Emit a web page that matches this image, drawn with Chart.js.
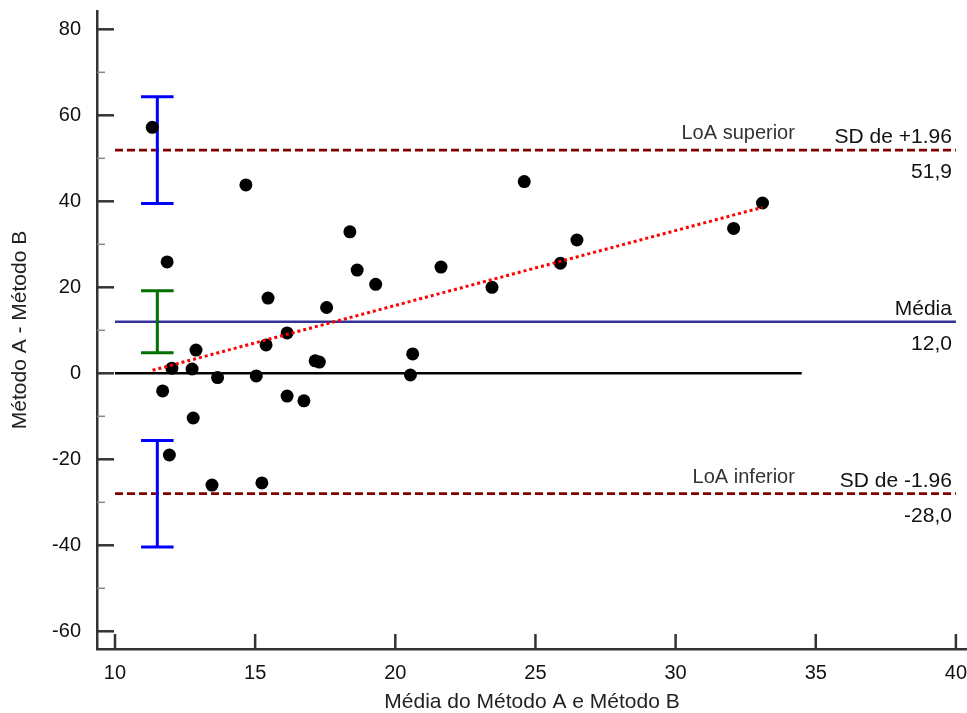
<!DOCTYPE html>
<html lang="pt">
<head>
<meta charset="utf-8">
<script src="https://cdn.jsdelivr.net/npm/chart.js@4.4.0/dist/chart.umd.min.js"></script>
<style>
  html, body { margin: 0; padding: 0; background: #fff; }
  #wrap { width: 967px; height: 713px; }
</style>
</head>
<body>
<div id="wrap"><canvas id="blandAltman"></canvas></div>
<script>
// Média dos dois métodos (eixo x) e diferença A - B (eixo y)
const mediaAB = [11.33, 11.86, 12.03, 11.70, 11.94, 12.75, 12.89, 12.79, 13.66, 13.46,
                 14.67, 15.04, 15.24, 15.39, 15.46, 16.14, 16.14, 16.74, 17.14, 17.29,
                 17.55, 18.38, 18.64, 19.30, 20.54, 20.62, 21.63, 23.45, 24.60, 25.89,
                 26.48, 32.07, 33.10];
const diferenca = [57.2, 25.9, 1.2, -4.1, -19.0, 1.0, 5.4, -10.4, -1.0, -26.0,
                   43.8, -0.6, -25.5, 6.6, 17.5, 9.4, -5.3, -6.4, 2.9, 2.6,
                   15.3, 32.9, 24.0, 20.7, -0.4, 4.5, 24.7, 20.0, 44.6, 25.6,
                   31.0, 33.7, 39.6];

const xTicks = [10, 15, 20, 25, 30, 35, 40];
const yTicks = [-60, -40, -20, 0, 20, 40, 60, 80];
const yTicksMenores = [-50, -30, -10, 10, 30, 50, 70];

// Média das diferenças e limites de concordância
const media = 12.0;
const loaSuperior = 51.9;
const loaInferior = -28.0;
// Intervalos de confiança (inferior, superior)
const icMedia = [4.8, 19.2];
const icLoaSuperior = [39.5, 64.3];
const icLoaInferior = [-40.4, -15.6];
const xIC = 11.51;

// Reta de regressão das diferenças
const regressaoX = [11.34, 33.1];
const regressaoY = [0.7, 38.6];

const xLinhas = [10, 40];
const xZero = [10, 34.5];

function linhaHorizontal(xs, valor) {
  return xs.map(v => ({ x: v, y: valor }));
}

function barraErro(ic) {
  const a = xIC - 0.58, b = xIC + 0.58;
  return [
    { x: a, y: ic[1] }, { x: b, y: ic[1] }, { x: b, y: null },
    { x: xIC, y: ic[1] }, { x: xIC, y: ic[0] }, { x: xIC, y: null },
    { x: a, y: ic[0] }, { x: b, y: ic[0] }
  ];
}

// Marcas dos eixos voltadas para dentro e textos das linhas de referência
const marcasETextos = {
  id: 'marcasETextos',
  afterDatasetsDraw(chart) {
    const { ctx, scales: { x, y } } = chart;
    ctx.save();
    ctx.lineCap = 'butt';

    ctx.strokeStyle = '#333';
    ctx.lineWidth = 2.5;
    yTicks.forEach(v => {
      const py = y.getPixelForValue(v);
      ctx.beginPath(); ctx.moveTo(x.left, py); ctx.lineTo(x.left + 17, py); ctx.stroke();
    });
    xTicks.forEach(v => {
      const px = x.getPixelForValue(v);
      ctx.beginPath(); ctx.moveTo(px, y.bottom); ctx.lineTo(px, y.bottom - 15); ctx.stroke();
    });
    ctx.strokeStyle = '#888';
    ctx.lineWidth = 1.5;
    yTicksMenores.forEach(v => {
      const py = y.getPixelForValue(v);
      ctx.beginPath(); ctx.moveTo(x.left, py); ctx.lineTo(x.left + 8, py); ctx.stroke();
    });

    const xd = x.getPixelForValue(40) - 4;
    ctx.textAlign = 'right';
    ctx.textBaseline = 'alphabetic';
    const fonte = '21px "Liberation Sans", Arial, sans-serif';
    const fontePequena = '20px "Liberation Sans", Arial, sans-serif';
    const fmt = v => v.toFixed(1).replace('.', ',');

    const rotulos = [
      { valor: loaSuperior, sd: 'SD de +1.96', nome: 'LoA superior' },
      { valor: media, sd: 'Média', nome: null },
      { valor: loaInferior, sd: 'SD de -1.96', nome: 'LoA inferior' }
    ];
    rotulos.forEach(r => {
      const py = y.getPixelForValue(r.valor);
      ctx.fillStyle = '#111';
      ctx.font = fonte;
      ctx.fillText(r.sd, xd, py - 7);
      ctx.fillText(fmt(r.valor), xd, py + 28);
      if (r.nome) {
        ctx.fillStyle = '#333';
        ctx.font = fontePequena;
        ctx.fillText(r.nome, xd - 157, py - 11);
      }
    });
    ctx.restore();
  }
};

Chart.defaults.font.family = '"Liberation Sans", Arial, sans-serif';
Chart.defaults.font.size = 20;
Chart.defaults.color = '#111';

const ctx = document.getElementById('blandAltman').getContext('2d');

new Chart(ctx, {
  type: 'scatter',
  data: {
    datasets: [
      {
        label: 'Regressão',
        data: regressaoX.map((v, i) => ({ x: v, y: regressaoY[i] })),
        showLine: true, pointRadius: 0,
        borderColor: '#ff0000', borderWidth: 3, borderDash: [3, 3]
      },
      {
        label: 'Diferenças',
        data: mediaAB.map((v, i) => ({ x: v, y: diferenca[i] })),
        pointRadius: 6.5, pointBackgroundColor: '#000', pointBorderWidth: 0
      },
      {
        label: 'IC LoA superior',
        data: barraErro(icLoaSuperior),
        showLine: true, spanGaps: false, pointRadius: 0,
        borderColor: '#0000ff', borderWidth: 3
      },
      {
        label: 'IC média',
        data: barraErro(icMedia),
        showLine: true, spanGaps: false, pointRadius: 0,
        borderColor: '#007000', borderWidth: 3
      },
      {
        label: 'IC LoA inferior',
        data: barraErro(icLoaInferior),
        showLine: true, spanGaps: false, pointRadius: 0,
        borderColor: '#0000ff', borderWidth: 3
      },
      {
        label: 'LoA superior',
        data: linhaHorizontal(xLinhas, loaSuperior),
        showLine: true, pointRadius: 0,
        borderColor: '#800000', borderWidth: 2.8, borderDash: [8, 4]
      },
      {
        label: 'LoA inferior',
        data: linhaHorizontal(xLinhas, loaInferior),
        showLine: true, pointRadius: 0,
        borderColor: '#800000', borderWidth: 2.8, borderDash: [8, 4]
      },
      {
        label: 'Média',
        data: linhaHorizontal(xLinhas, media),
        showLine: true, pointRadius: 0,
        borderColor: '#333399', borderWidth: 2.5
      },
      {
        label: 'Zero',
        data: linhaHorizontal(xZero, 0),
        showLine: true, pointRadius: 0,
        borderColor: '#000', borderWidth: 2.5
      }
    ]
  },
  options: {
    responsive: true,
    maintainAspectRatio: false,
    animation: false,
    layout: { autoPadding: false, padding: { top: 11, right: 0, bottom: 0, left: 0 } },
    plugins: { legend: { display: false }, tooltip: { enabled: false } },
    scales: {
      x: {
        type: 'linear',
        min: 9.358, max: 40.396,
        grid: { display: false },
        border: { display: true, color: '#333', width: 2.5 },
        afterBuildTicks: s => { s.ticks = xTicks.map(v => ({ value: v })); },
        afterFit: s => {
          s.height = 64;
          s.paddingLeft = 0; s.paddingRight = 0;
        },
        ticks: { padding: 4, color: '#111', maxRotation: 0, autoSkip: false },
        title: {
          display: true, text: 'Média do Método A e Método B',
          color: '#222', font: { size: 21, lineHeight: 1 },
          padding: { top: 0, bottom: 0 }
        }
      },
      y: {
        type: 'linear',
        min: -64.12, max: 84.26,
        grid: { display: false },
        border: { display: true, color: '#333', width: 2.5 },
        afterBuildTicks: s => { s.ticks = yTicks.map(v => ({ value: v })); },
        afterFit: s => {
          s.width = 97;
          s.paddingTop = 0; s.paddingBottom = 0;
        },
        ticks: { padding: 8, color: '#111', autoSkip: false },
        title: {
          display: true, text: 'Método A - Método B',
          color: '#222', font: { size: 21, lineHeight: 1 },
          padding: { top: 10, bottom: 0 }
        }
      }
    }
  },
  plugins: [marcasETextos]
});
</script>
</body>
</html>
